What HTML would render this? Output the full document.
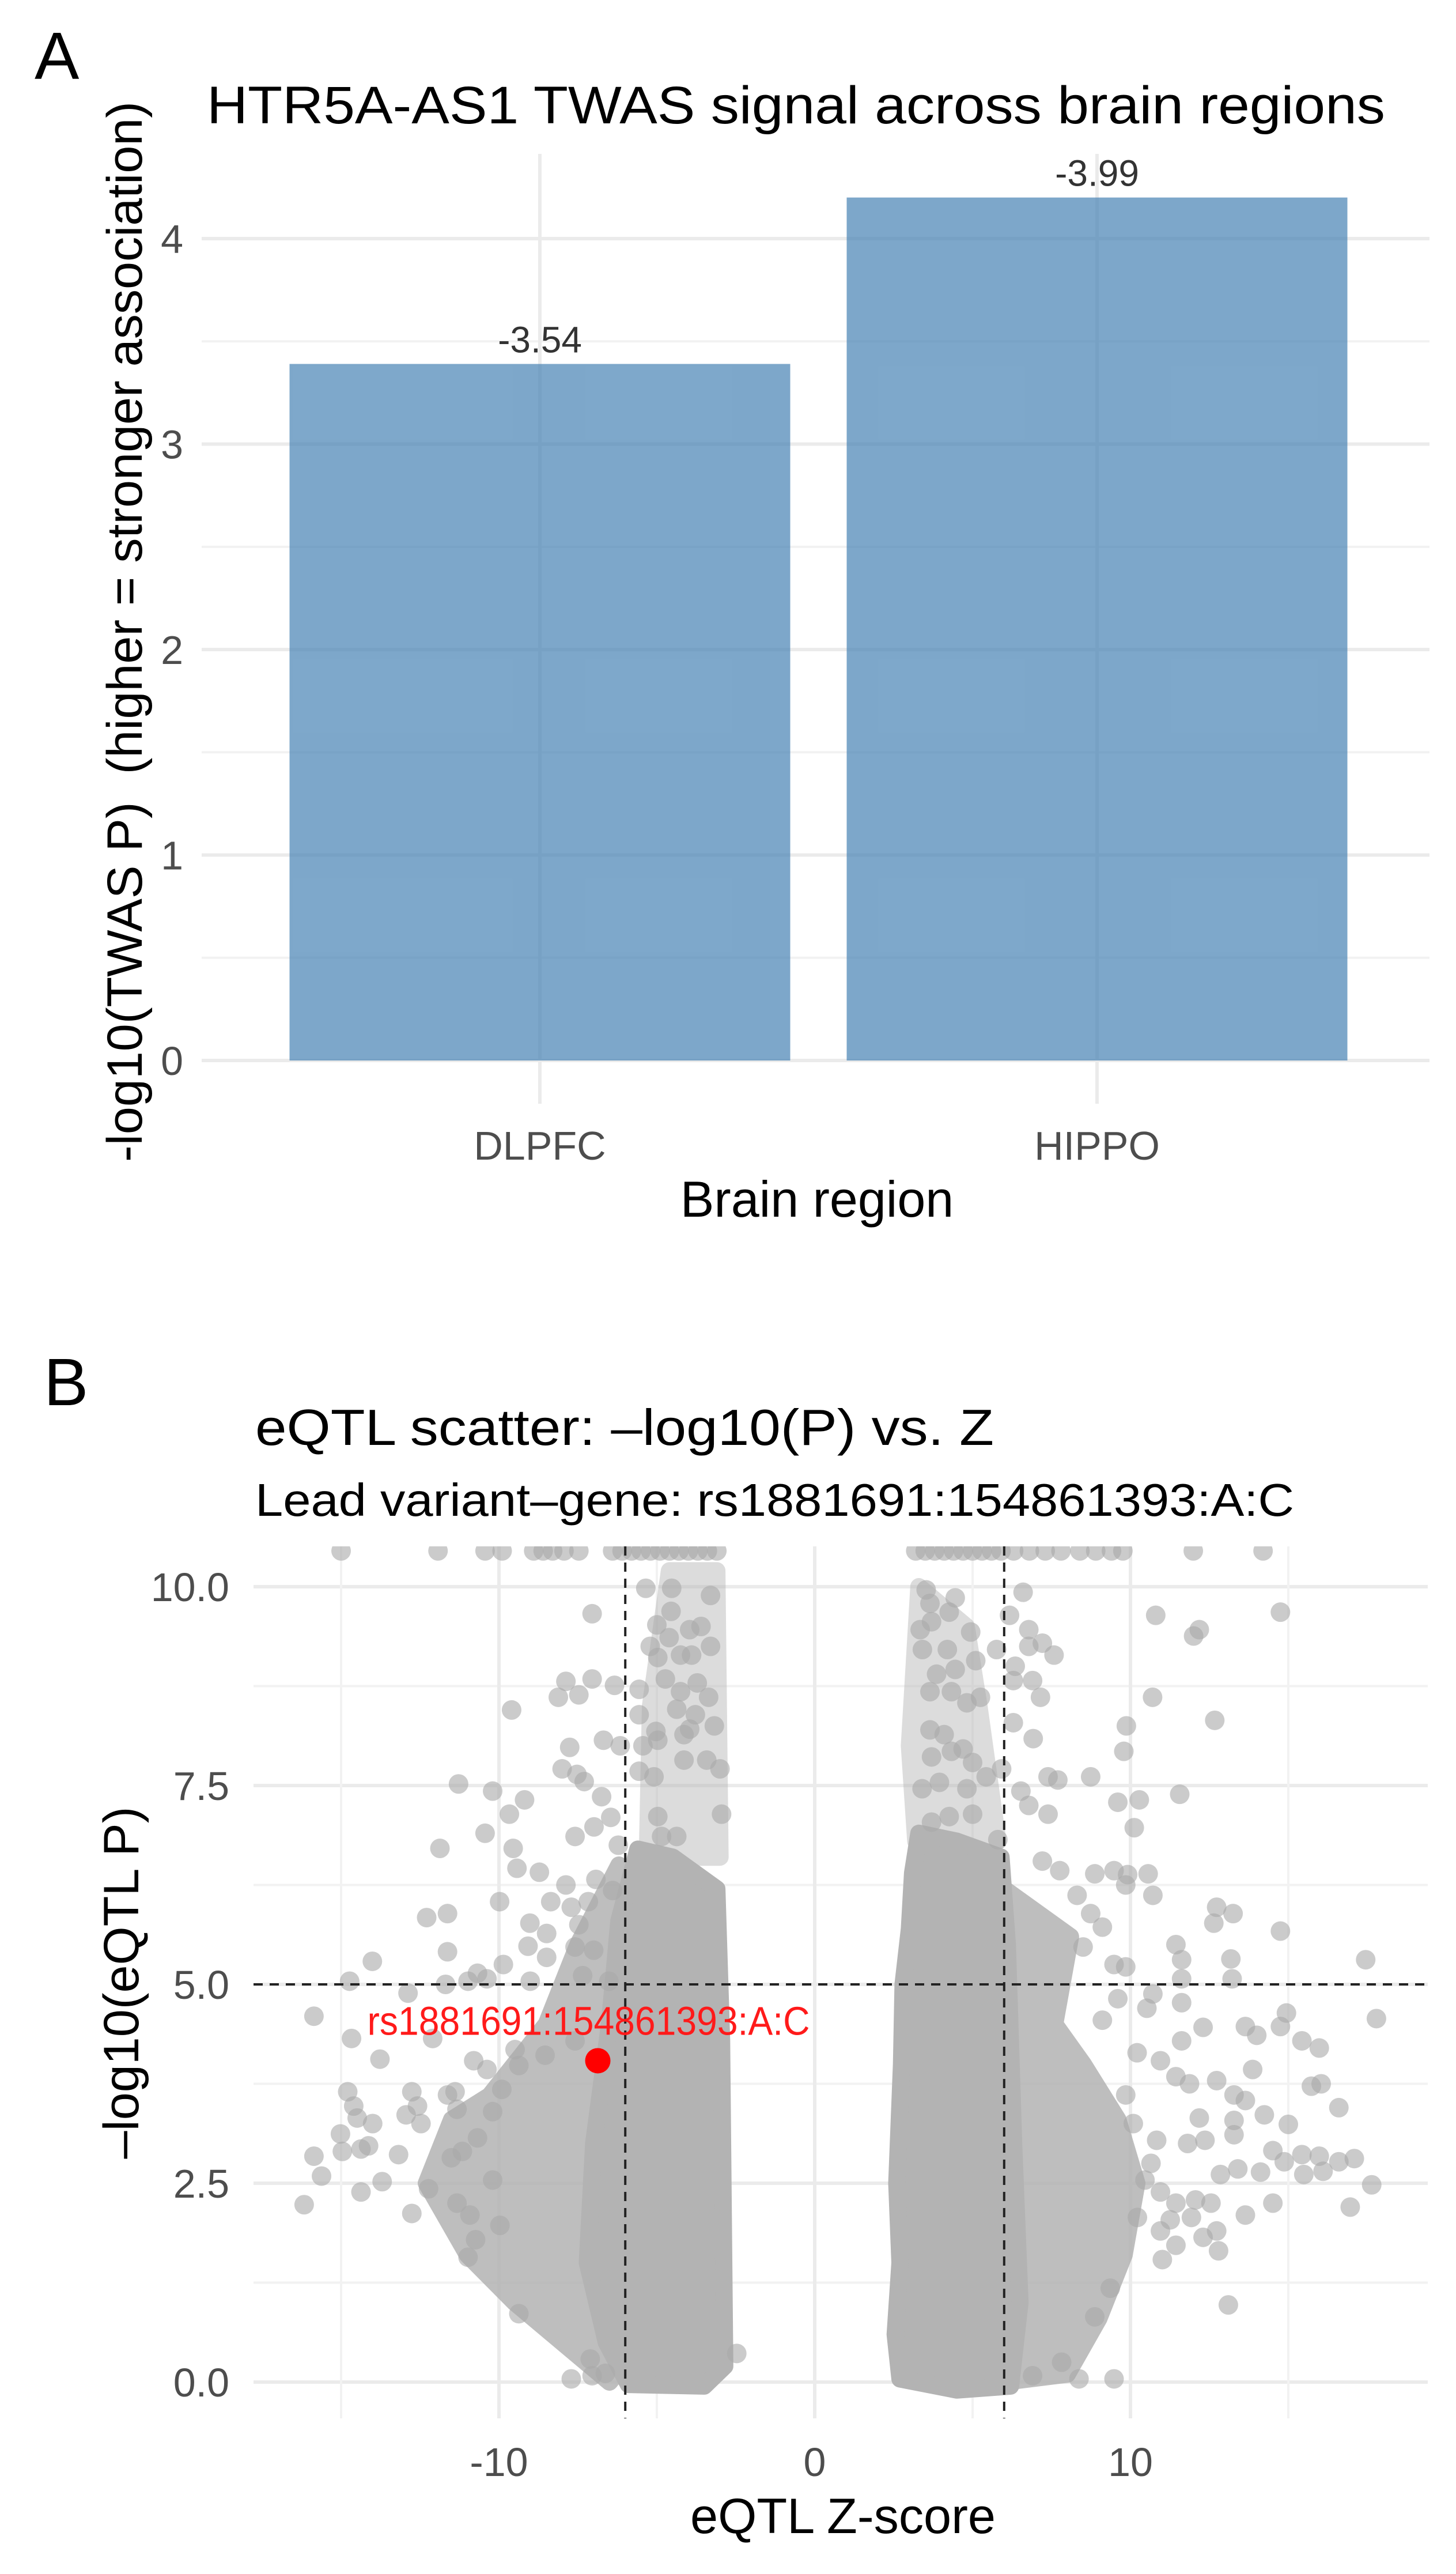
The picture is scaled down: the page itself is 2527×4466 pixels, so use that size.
<!DOCTYPE html>
<html><head><meta charset="utf-8"><style>
html,body{margin:0;padding:0;background:#fff;}
svg{display:block;font-family:"Liberation Sans",Arial,sans-serif;}
</style></head><body>
<svg id="fig" width="2527" height="4466" viewBox="0 0 2527 4466" xmlns="http://www.w3.org/2000/svg">
<rect x="0" y="0" width="2527" height="4466" fill="#fff"/>
<g id="panelA">
  <text x="60" y="137" font-size="116">A</text>
  <text x="359" y="214" font-size="92" textLength="2045" lengthAdjust="spacingAndGlyphs">HTR5A-AS1 TWAS signal across brain regions</text>
  <g id="gridA"></g>
  <g id="barsA"></g>
  <g id="ticksA"></g>
  <text transform="translate(246,1096) rotate(-90)" text-anchor="middle" font-size="86" textLength="1840" lengthAdjust="spacingAndGlyphs" xml:space="preserve">-log10(TWAS P)  (higher = stronger association)</text>
  <text x="1418" y="2111" text-anchor="middle" font-size="88">Brain region</text>
</g>
<g id="panelB">
  <text x="76" y="2438" font-size="116">B</text>
  <text x="443" y="2507" font-size="88" textLength="1282" lengthAdjust="spacingAndGlyphs">eQTL scatter: –log10(P) vs. Z</text>
  <text x="443" y="2630" font-size="80" textLength="1803" lengthAdjust="spacingAndGlyphs">Lead variant–gene: rs1881691:154861393:A:C</text>
  <defs><clipPath id="clipB"><rect x="440" y="2683" width="2038" height="1513"/></clipPath></defs>
  <g id="gridB"></g>
  <g id="marksB" clip-path="url(#clipB)"></g>
  <g id="refB"></g>
  <g id="leadB"></g>
  <g id="ticksB"></g>
  <text transform="translate(240,3440) rotate(-90)" text-anchor="middle" font-size="86" textLength="611" lengthAdjust="spacingAndGlyphs">–log10(eQTL P)</text>
  <text x="1463" y="4395" text-anchor="middle" font-size="86" textLength="530" lengthAdjust="spacingAndGlyphs">eQTL Z-score</text>
</g>
</svg>
<script>
// ---------- Panel A data ----------
const regions = ["DLPFC", "HIPPO"];
const barHeights = [3.39, 4.20];
const barLabels = ["-3.54", "-3.99"];
const yTicksA = [0, 1, 2, 3, 4];
const yMinorA = [0.5, 1.5, 2.5, 3.5];

// ---------- Panel B data (z, -log10 p) ----------
const capZ = [-15, -11.93, -10.44, -9.9, -8.9, -8.6, -8.3, -7.94, -7.47, -6.4, -6.1, -5.8, -5.5, -5.2, -4.9, -4.6, -4.3, -4.0, -3.7, -3.4, -3.1,
  3.2, 3.5, 3.8, 4.1, 4.4, 4.7, 5.0, 5.3, 5.6, 5.9, 6.3, 6.8, 7.3, 7.8, 8.4, 8.9, 9.4, 9.76, 11.99, 14.2];
const capP = 10.45;
const leftUpperZ = [-5.3, -3.0, -3.1, -4.6, -5.2];
const leftUpperP = [6.6, 6.6, 10.2, 10.2, 8.5];
const rightUpperZ = [3.2, 5.8, 5.2, 4.8, 3.3, 3.0];
const rightUpperP = [6.8, 6.8, 8.5, 9.5, 10.0, 8.0];
const leftShoulderZ = [-6.2, -7.5, -8.5, -10.3, -11.5, -12.3, -11.0, -9.5, -8.0, -6.5, -5.5, -5.5];
const leftShoulderP = [6.5, 5.5, 4.5, 3.6, 3.3, 2.5, 1.6, 1.0, 0.5, 0.0, 0.5, 6.0];
const leftCoreZ = [-5.6, -4.5, -3.1, -2.95, -2.85, -3.5, -5.9, -6.6, -7.2, -7.0, -6.5, -6.2];
const leftCoreP = [6.7, 6.6, 6.2, 4.3, 0.2, -0.05, -0.03, 0.5, 1.5, 3.0, 4.5, 5.8];
const rightCoreZ = [3.3, 4.5, 5.9, 6.1, 6.3, 6.5, 6.2, 4.5, 2.7, 2.55, 2.7, 2.6, 2.75, 2.8, 3.0, 3.1];
const rightCoreP = [6.9, 6.8, 6.6, 5.5, 3.0, 1.0, -0.05, -0.1, 0.04, 0.6, 1.5, 2.5, 4.0, 5.0, 5.7, 6.4];
const rightShoulderZ = [6.0, 8.1, 7.6, 8.5, 9.6, 10.2, 9.8, 9.0, 8.0, 6.0, 5.6];
const rightShoulderP = [6.2, 5.6, 4.5, 4.0, 3.3, 2.5, 1.6, 0.8, 0.1, 0.0, 3.0];
const pointZ = [
 -7.05,-5.35,-4.53,-3.3,-4.55,-5.0,-3.96,-3.6,-3.3,-5.21,-4.61,-4.97,-4.25,-3.9,
 -7.88,-7.05,-8.12,-7.47,-6.34,-5.56,-4.73,-4.25,-3.72,-3.36,-4.37,-9.6,
 -7.76,-6.69,-6.16,-5.44,-4.97,-4.14,-3.96,-8.0,-7.53,-7.3,-5.56,-5.09,-4.14,-3.42,-3.0,
 -11.28,-10.2,-9.19,-9.67,-10.44,-11.87,-9.55,-9.43,-8.72,
 -6.75,-6.46,-6.99,-7.59,-6.22,-4.97,-4.85,-4.37,-2.95,
 -7.88,-6.93,-6.4,-9.98,-8.36,-7.71,-7.17,
 -12.29,-11.63,-9.02,-8.49,-7.47,-9.08,-8.49,-7.59,-7.0,
 -11.63,-14.01,-9.86,-10.68,-14.73,-11.69,-10.98,-10.38,-9.01,-7.35,-6.52,
 -15.86,-12.88,-12.1,-14.67,-13.77,-10.8,-10.38,-9.49,-8.54,-7.59,-9.37,
 -14.79,-14.6,-14.0,-14.49,-12.76,-12.58,-12.94,-12.47,-15.02,-14.96,-14.37,-14.13,
 -15.86,-15.62,-16.17,-14.37,-13.7,-12.76,-13.18,-12.23,
 -11.63,-11.33,-11.39,-10.68,-10.2,-9.91,-11.51,-11.16,-11.33,-10.92,-10.74,-10.98,-10.2,-9.97,-9.37,-7.71,-7.11,-6.63,-7.05,-2.47,
 -5.56,-5.03,-3.78,-3.18,
 3.53,3.65,4.45,6.6,4.26,6.17,3.34,3.7,4.94,6.78,3.41,4.2,5.1,5.76,6.78,7.21,7.58,6.35,3.86,4.45,6.29,6.9,3.65,4.33,4.82,5.25,7.15,6.29,6.92,
 3.65,4.1,4.7,3.7,4.33,5.0,3.4,3.95,4.82,5.43,5.92,6.53,7.39,7.7,6.78,7.39,3.7,4.26,5.0,5.8,
 10.8,14.75,12.18,12.0,10.7,12.67,9.87,9.79,8.74,9.6,10.28,11.56,10.12,7.21,7.76,8.87,9.48,9.91,10.56,9.85,10.71,8.31,8.74,9.11,
 12.73,13.25,12.64,14.75,11.44,11.62,13.18,13.22,17.45,11.62,8.5,9.48,9.85,
 17.79,14.94,14.75,13.64,14.0,15.43,15.98,12.3,11.62,11.62,10.52,10.71,9.11,9.6,10.21,10.95,
 13.87,12.73,15.73,16.04,13.28,13.64,11.44,11.87,16.6,14.24,13.28,12.18,15.0,13.28,10.83,11.81,12.36,
 14.51,14.87,15.43,15.98,16.6,17.09,14.12,15.49,16.1,17.64,12.85,13.4,16.96,14.51,12.55,13.64,12.06,11.44,11.93,11.26,
 12.3,12.73,12.79,10.95,11.44,11.01,13.1,10.46,10.95,10.65,10.22,9.48,8.37,6.9,7.82,9.36,8.87,10.09,9.85];
const pointP = [
 9.66,9.98,9.98,9.89,9.69,9.52,9.46,9.5,9.25,9.25,9.36,9.11,9.14,9.14,
 8.81,8.84,8.61,8.64,8.76,8.71,8.84,8.68,8.79,8.61,8.46,8.45,
 7.98,8.07,8.0,8.0,8.07,8.14,8.21,7.71,7.64,7.55,7.68,7.61,7.82,7.82,7.71,
 7.52,7.43,7.32,7.14,6.9,6.71,6.71,6.46,6.41,
 7.36,7.1,6.98,6.86,6.75,7.11,6.86,6.86,7.14,
 6.25,6.32,6.18,6.04,6.04,5.97,6.04,
 5.84,5.89,5.77,5.64,5.75,5.48,5.34,5.47,5.43,
 5.41,5.29,5.25,5.14,5.04,5.0,5.04,5.07,5.04,5.11,5.04,
 4.6,4.89,4.32,4.32,4.06,4.04,3.93,4.18,4.11,4.29,3.98,
 3.65,3.47,3.25,3.32,3.65,3.47,3.36,3.25,3.12,2.9,2.93,2.97,
 2.84,2.59,2.23,2.39,2.52,2.12,2.86,2.43,
 3.61,3.43,3.65,3.07,3.4,3.68,2.82,2.9,2.25,2.1,1.79,1.57,2.54,1.97,0.86,0.04,0.29,0.11,0.08,0.36,
 8.39,8.18,8.39,8.25,
 9.96,9.79,9.86,9.93,9.68,9.64,9.46,9.56,9.43,9.46,9.21,9.21,9.07,9.21,9.25,9.29,9.14,9.0,8.9,8.96,8.82,8.82,8.68,8.68,8.54,8.61,8.61,8.29,8.09,
 8.2,8.14,7.96,7.86,7.93,7.79,7.46,7.54,7.46,7.61,7.71,7.43,7.61,7.57,7.25,7.14,7.04,7.11,7.14,6.82,
 9.64,9.68,9.46,9.38,8.61,8.32,8.25,7.93,7.61,7.29,7.32,7.39,6.97,6.55,6.43,6.39,6.43,6.38,6.39,6.25,6.12,6.12,5.89,5.72,
 5.97,5.89,5.77,5.67,5.5,5.31,5.32,5.07,5.31,5.07,5.47,5.25,5.22,
 4.57,4.64,4.47,4.47,4.36,4.29,4.2,4.46,4.29,4.77,4.7,4.88,4.55,4.82,4.14,4.04,
 3.93,3.79,3.72,3.75,3.61,3.54,3.84,3.75,3.45,3.36,3.29,3.32,3.24,3.11,3.04,3.0,3.04,
 2.91,2.77,2.86,2.84,2.77,2.81,2.64,2.61,2.65,2.48,2.61,2.68,2.2,2.25,2.25,2.1,2.29,2.25,2.07,2.04,
 1.82,1.9,1.65,1.9,1.72,1.54,0.97,2.54,2.39,2.75,2.07,0.04,0.04,0.08,0.25,1.18,0.82,3.25,3.61];
const leadZ = -6.87, leadP = 4.04;
const leadLabel = "rs1881691:154861393:A:C";
const zThresh = [-6, 6];
const pThresh = 5;
const yTicksB = [0, 2.5, 5, 7.5, 10];
const yTickLabelsB = ["0.0", "2.5", "5.0", "7.5", "10.0"];
const yMinorB = [1.25, 3.75, 6.25, 8.75];
const xTicksB = [-10, 0, 10];
const xTickLabelsB = ["-10", "0", "10"];
const xMinorB = [-15, -5, 5, 15];

const NS = "http://www.w3.org/2000/svg";
function mk(tag, attrs, parent) {
  const e = document.createElementNS(NS, tag);
  for (const k in attrs) e.setAttribute(k, attrs[k]);
  parent.appendChild(e);
  return e;
}
// ---------- Panel A scales ----------
const A = {left: 350, right: 2481, top: 267, bottom: 1915};
function yA(v) { return 1840 - v * 356.5; }
function xA(i) { return 937 + i * 967; }
const bandW = 869;
const gA = document.getElementById('gridA');
yMinorA.forEach(v => {
  const l = mk('line', {x1: A.left, x2: A.right, y1: yA(v), y2: yA(v), stroke: '#f2f2f2', 'stroke-width': 4}, gA);
  
  
});
yTicksA.forEach(v => {
  const l = mk('line', {x1: A.left, x2: A.right, y1: yA(v), y2: yA(v), stroke: '#ebebeb', 'stroke-width': 6}, gA);
  
  
});
regions.forEach((r, i) => {
  const l = mk('line', {x1: xA(i), x2: xA(i), y1: A.top, y2: A.bottom, stroke: '#ebebeb', 'stroke-width': 6}, gA);
  
  
});
const bA = document.getElementById('barsA');
const tA = document.getElementById('ticksA');
barHeights.forEach((h, i) => {
  const b = mk('rect', {x: xA(i) - bandW / 2, y: yA(h), width: bandW, height: yA(0) - yA(h), fill: '#4682b4', 'fill-opacity': 0.7}, bA);
  
  
  const t = mk('text', {x: xA(i), y: yA(h) - 20, 'text-anchor': 'middle', 'font-size': 64, fill: '#333'}, bA);
  t.textContent = barLabels[i];
  
  
  const c = mk('text', {x: xA(i), y: 2012, 'text-anchor': 'middle', 'font-size': 70, fill: '#4d4d4d'}, tA);
  c.textContent = regions[i];
  
  
});
yTicksA.forEach(v => {
  const t = mk('text', {x: 318, y: yA(v) + 25, 'text-anchor': 'end', 'font-size': 70, fill: '#4d4d4d'}, tA);
  t.textContent = String(v);
  
  
});
// ---------- Panel B scales ----------
const B = {left: 440, right: 2478, top: 2683, bottom: 4196};
function xB(z) { return 1414 + z * 54.8; }
function yB(p) { return 4133 - p * 138; }
const gB = document.getElementById('gridB');
yMinorB.forEach(v => {
  const l = mk('line', {x1: B.left, x2: B.right, y1: yB(v), y2: yB(v), stroke: '#f2f2f2', 'stroke-width': 4}, gB);
  
  
});
yTicksB.forEach(v => {
  const l = mk('line', {x1: B.left, x2: B.right, y1: yB(v), y2: yB(v), stroke: '#ebebeb', 'stroke-width': 6}, gB);
  
  
});
xMinorB.forEach(v => {
  const l = mk('line', {x1: xB(v), x2: xB(v), y1: B.top, y2: B.bottom, stroke: '#f2f2f2', 'stroke-width': 4}, gB);
  
  
});
xTicksB.forEach(v => {
  const l = mk('line', {x1: xB(v), x2: xB(v), y1: B.top, y2: B.bottom, stroke: '#ebebeb', 'stroke-width': 6}, gB);
  
  
});
const mB = document.getElementById('marksB');
function region(zs, ps, name, op) {
  const pts = zs.map((z, i) => xB(z).toFixed(1) + ',' + yB(ps[i]).toFixed(1)).join(' ');
  const pg = mk('polygon', {points: pts, fill: '#b3b3b3', stroke: '#b3b3b3', 'stroke-width': 30, 'stroke-linejoin': 'round', opacity: op}, mB);
  
  
}
region(leftUpperZ, leftUpperP, 'upper-points-negative-z', 0.45);
region(rightUpperZ, rightUpperP, 'upper-points-positive-z', 0.45);
region(leftShoulderZ, leftShoulderP, 'medium-density-points-negative-z', 0.85);
region(rightShoulderZ, rightShoulderP, 'medium-density-points-positive-z', 0.85);
region(leftCoreZ, leftCoreP, 'dense-points-negative-z', 1);
region(rightCoreZ, rightCoreP, 'dense-points-positive-z', 1);
pointZ.forEach((z, i) => {
  const c = mk('circle', {cx: xB(z), cy: yB(pointP[i]), r: 17, fill: '#a9a9a9', 'fill-opacity': 0.6}, mB);
  
  
});
capZ.forEach(z => {
  const c = mk('circle', {cx: xB(z), cy: yB(capP), r: 17, fill: '#a9a9a9', 'fill-opacity': 0.6}, mB);
  
  
});
const rB = document.getElementById('refB');
zThresh.forEach(z => {
  const l = mk('line', {x1: xB(z), x2: xB(z), y1: B.top, y2: B.bottom, stroke: '#222', 'stroke-width': 4, 'stroke-dasharray': '16,12'}, rB);
  
  
});
{
  const l = mk('line', {x1: B.left, x2: B.right, y1: yB(pThresh), y2: yB(pThresh), stroke: '#222', 'stroke-width': 4, 'stroke-dasharray': '16,12'}, rB);
  
  
}
const lB = document.getElementById('leadB');
{
  const c = mk('circle', {cx: xB(leadZ), cy: yB(leadP), r: 22, fill: '#ff0000'}, lB);
  
  
  const t = mk('text', {x: xB(leadZ) - 16, y: yB(leadP) - 45, 'text-anchor': 'middle', 'font-size': 70, fill: '#ff1a1a', textLength: 768, lengthAdjust: 'spacingAndGlyphs'}, lB);
  t.textContent = leadLabel;
  
  
}
const tB = document.getElementById('ticksB');
yTicksB.forEach((v, i) => {
  const t = mk('text', {x: 398, y: yB(v) + 25, 'text-anchor': 'end', 'font-size': 70, fill: '#4d4d4d'}, tB);
  t.textContent = yTickLabelsB[i];
  
  
});
xTicksB.forEach((v, i) => {
  const t = mk('text', {x: xB(v), y: 4296, 'text-anchor': 'middle', 'font-size': 70, fill: '#4d4d4d'}, tB);
  t.textContent = xTickLabelsB[i];
  
  
});
</script>
</body></html>
